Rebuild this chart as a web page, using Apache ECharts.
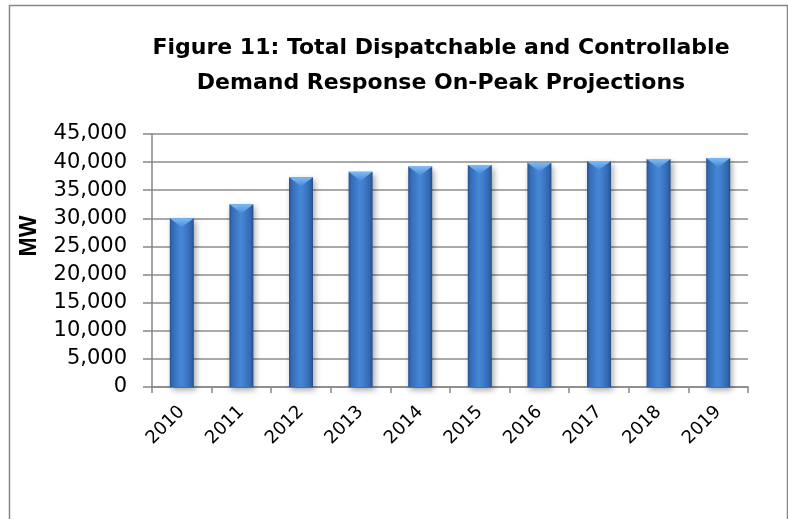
<!DOCTYPE html>
<html>
<head>
<meta charset="utf-8">
<script src="https://cdn.jsdelivr.net/npm/echarts@6/dist/echarts.min.js"></script>
<style>html,body{margin:0;padding:0;background:#fff}#c{width:788px;height:519px}</style>
</head>
<body>
<div id="c"></div>
<script>
var years = ['2010','2011','2012','2013','2014','2015','2016','2017','2018','2019'];
var demandMW = [30000, 32500, 37300, 38300, 39200, 39500, 39900, 40200, 40550, 40750];
var yTicks = { min: 0, max: 45000, interval: 5000 };
var titleLines = ['Figure 11: Total Dispatchable and Controllable', 'Demand Response On-Peak Projections'];
var yName = 'MW';

var chart = echarts.init(document.getElementById('c'), null, {renderer: 'canvas'});
var barW = 24;
chart.setOption({
  animation: false,
  backgroundColor: '#fff',
  graphic: [{
    type: 'rect', left: 7, top: 3, shape: {width: 778, height: 540},
    style: {fill: 'none', stroke: '#868686', lineWidth: 1.5}, silent: true
  }, {
    type: 'text', x: 30, y: 236, rotation: Math.PI / 2,
    style: {text: yName, fontFamily: 'Liberation Sans', fontWeight: 'bold', fontSize: 23,
      fill: '#000', textAlign: 'center', textVerticalAlign: 'middle'}, silent: true
  }],
  title: {
    text: titleLines.join('\n'),
    left: 436, top: 26, textAlign: 'center',
    textStyle: {fontFamily: 'DejaVu Sans', fontWeight: 'bold', fontSize: 22, lineHeight: 35, color: '#000'}
  },
  grid: {left: 152, right: 40, top: 134, bottom: 132, containLabel: false},
  xAxis: {
    type: 'category', data: years,
    axisLine: {lineStyle: {color: '#868686', width: 1.5}},
    axisTick: {show: true, length: 6, lineStyle: {color: '#868686', width: 1.5}},
    axisLabel: {rotate: 45, margin: 22, fontFamily: 'DejaVu Sans', fontSize: 18, color: '#000'}
  },
  yAxis: {
    type: 'value', min: yTicks.min, max: yTicks.max, interval: yTicks.interval,
    axisLine: {show: true, lineStyle: {color: '#868686', width: 1.5}},
    axisTick: {show: true, inside: false, length: 9, lineStyle: {color: '#868686', width: 1.5}},
    splitLine: {show: true, lineStyle: {color: '#8c8c8c', width: 1.5}},
    axisLabel: {margin: 25, fontFamily: 'DejaVu Sans', fontSize: 21, color: '#000',
      formatter: function (v) { return v.toLocaleString('en-US'); }}
  },
  series: [{
    type: 'bar', data: demandMW, barWidth: barW, z: 2,
    itemStyle: {
      color: new echarts.graphic.LinearGradient(0, 0, 1, 0, [
        {offset: 0, color: '#285392'},
        {offset: 0.12, color: '#356cb6'},
        {offset: 0.45, color: '#4586d6'},
        {offset: 0.6, color: '#4180cf'},
        {offset: 0.88, color: '#3367ae'},
        {offset: 1, color: '#264e88'}
      ]),
      shadowColor: 'rgba(0,0,0,0.35)', shadowBlur: 6, shadowOffsetX: 2, shadowOffsetY: 3
    }
  }, {
    type: 'pictorialBar', data: demandMW, z: 3,
    symbol: 'path://M0,0 L24,0 L12,9 Z',
    symbolSize: [barW, 9], symbolPosition: 'end', symbolOffset: [0, 0],
    itemStyle: {
      color: new echarts.graphic.LinearGradient(0, 0, 0, 1, [
        {offset: 0, color: '#7bbcf5'},
        {offset: 1, color: '#4a8ad8'}
      ])
    },
    silent: true
  }]
});
</script>
</body>
</html>
